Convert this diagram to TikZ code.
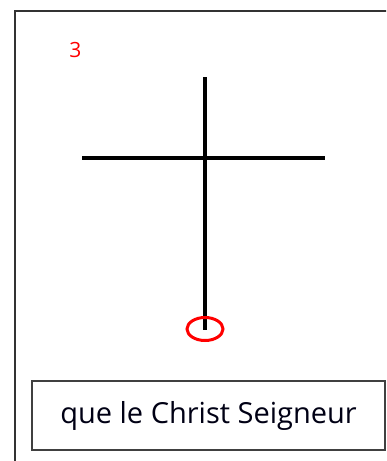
\documentclass[tikz,border=0pt]{standalone}
\usepackage{fontspec}
\setmainfont{Open Sans}
\usetikzlibrary{shapes.geometric}
\begin{document}
\begin{tikzpicture}[x=1pt,y=-1pt,
  frame/.style={draw=black!80,line width=2pt},
  labelbox/.style={draw=black!75,line width=1.3pt,minimum width=353pt,minimum height=69pt,inner sep=0pt,font=\fontsize{29}{32}\selectfont,text=black!92!blue},
  crossline/.style={line width=4.5pt,black},
  ring/.style={draw=red,line width=3pt,ellipse,minimum width=36pt,minimum height=23pt,inner sep=0pt}]
\useasboundingbox (0,0) rectangle (386,461);
\clip (0,0) rectangle (386,461);
\draw[frame] (15,11) rectangle (400,480);
\node[text=red,font=\fontsize{21}{24}\selectfont] (num) at (75.5,49.5) {3};
\coordinate (top) at (205,77);
\coordinate (bot) at (205,330);
\coordinate (left) at (82,158);
\coordinate (right) at (325,158);
\draw[crossline] (top) -- (bot);
\draw[crossline] (left) -- (right);
\node[ring] (circ) at (205,329) {};
\node[labelbox] (txt) at (208.5,415.5) {que le Christ Seigneur};
\end{tikzpicture}
\end{document}
